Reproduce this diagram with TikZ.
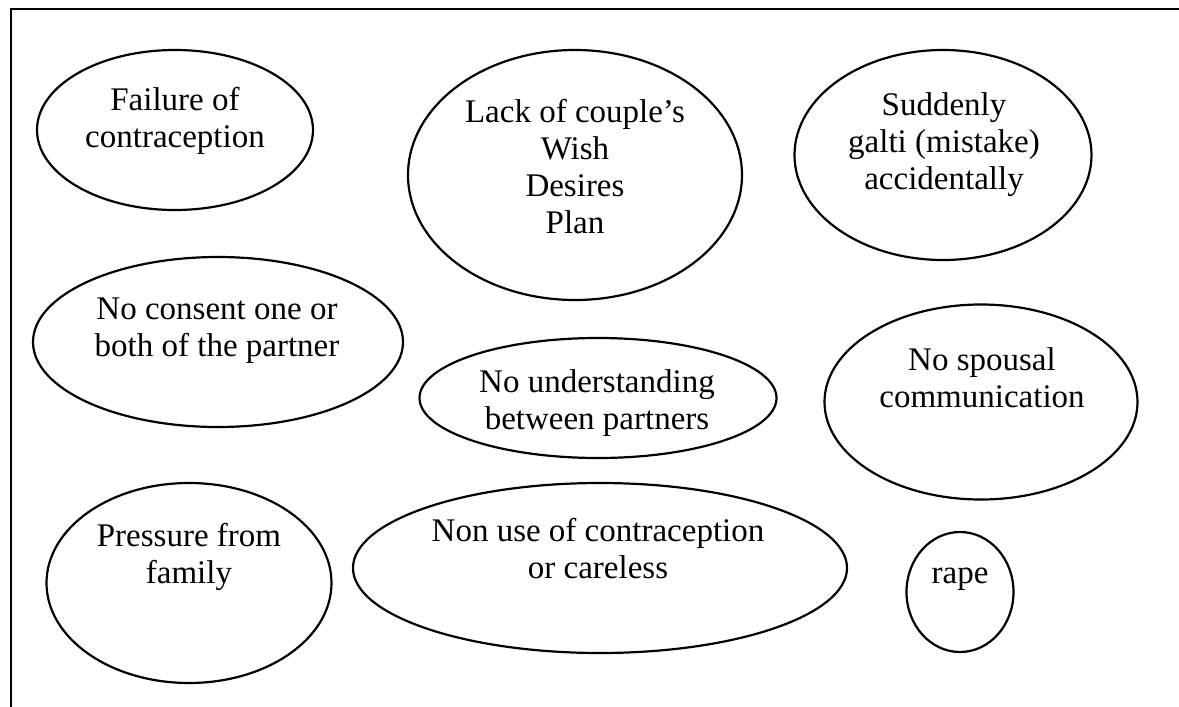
\documentclass[tikz,border=0pt]{standalone}
\usepackage{fontspec}
\setmainfont{Liberation Serif}
\usetikzlibrary{shapes.geometric}
\begin{document}
\begin{tikzpicture}[x=1pt,y=-1pt,
  bub/.style={draw=black,line width=2.2pt,ellipse,inner sep=0pt},
  txt/.style={align=center,inner sep=0pt,anchor=base,
    font=\fontsize{33}{37}\selectfont}]
\useasboundingbox (0,0) rectangle (1179,707);
% page frame (top and left rules)
\coordinate (fbl) at (11,707);
\coordinate (ftl) at (11,9);
\coordinate (ftr) at (1179,9);
\draw[line width=1.8pt] (fbl) -- (ftl) -- (ftr);

% bubbles
\node[bub,minimum width=276,minimum height=160] (fail) at (175,130) {};
\node[bub,minimum width=334,minimum height=250] (lack) at (575,175) {};
\node[bub,minimum width=297,minimum height=210] (sudden) at (943,155) {};
\node[bub,minimum width=370,minimum height=170] (consent) at (218,342) {};
\node[bub,minimum width=357,minimum height=120] (underst) at (598,398) {};
\node[bub,minimum width=313,minimum height=195] (spousal) at (981,402) {};
\node[bub,minimum width=285,minimum height=200] (press) at (189,583) {};
\node[bub,minimum width=494,minimum height=170] (nonuse) at (600,568) {};
\node[bub,minimum width=107,minimum height=120] (rape) at (960,592) {};

% labels (anchored at the baseline of their last line)
\node[txt] (failT) at (175,147) {Failure of\\contraception};
\node[txt] (lackT) at (575,233) {Lack of couple’s\\Wish\\Desires\\Plan};
\node[txt] (suddenT) at (944,189) {Suddenly\\galti (mistake)\\accidentally};
\node[txt] (consentT) at (217,356) {No consent one or\\both of the partner};
\node[txt] (understT) at (597,429) {No understanding\\between partners};
\node[txt] (spousalT) at (982,407) {No spousal\\communication};
\node[txt] (pressT) at (189,583) {Pressure from\\family};
\node[txt] (nonuseT) at (598,578) {Non use of contraception\\or careless};
\node[txt] (rapeT) at (960,583) {rape};
\end{tikzpicture}
\end{document}
